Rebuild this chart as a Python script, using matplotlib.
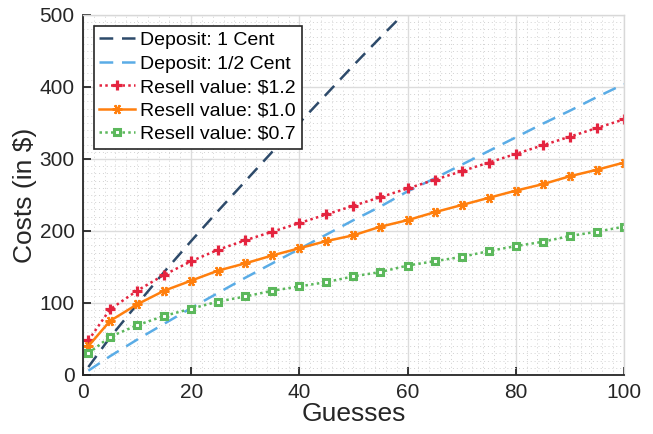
import matplotlib
matplotlib.use("Agg")
import matplotlib.pyplot as plt
from matplotlib.ticker import MultipleLocator

plt.rcParams['font.family'] = ['Liberation Sans', 'DejaVu Sans']

# guesses at which the curves were sampled
guesses = [1, 5, 10, 15, 20, 25, 30, 35, 40, 45, 50,
           55, 60, 65, 70, 75, 80, 85, 90, 95, 100]

# deposit costs
dep_1cent = [11, 52, 98, 143, 186, 228, 269, 310, 350, 390, 430,
             469, 507, 546, 584, 622, 660, 697, 734, 771, 808]
dep_half = [6, 26, 49, 71, 93, 114, 135, 155, 175, 195, 215,
            234, 255, 273, 292, 311, 330, 349, 367, 386, 404]

# resell value costs
resell_12 = [48, 91, 117, 139, 158, 174, 187, 199, 211, 223, 235,
             247, 259, 271, 283, 295, 307, 319, 331, 343, 355]
resell_10 = [40, 75, 98, 117, 131, 145, 155, 166, 176, 186, 194,
             206, 215, 226, 236, 246, 256, 265, 276, 285, 295]
resell_07 = [30, 53, 69, 82, 92, 102, 109, 117, 123, 129, 137,
             143, 152, 158, 164, 172, 179, 185, 193, 199, 206]

fig = plt.figure(figsize=(6.53, 4.34), dpi=100)
ax = fig.add_axes([0.127, 0.136, 0.8285, 0.8295])

ax.plot(guesses, dep_1cent, color='#2d4a6a', lw=1.8, ls=(0, (5.5, 3.5)),
        label='Deposit: 1 Cent')
ax.plot(guesses, dep_half, color='#5aace6', lw=1.8, ls=(0, (5.5, 3.5)),
        label='Deposit: 1/2 Cent')
ax.plot(guesses, resell_12, color='#e4243f', lw=1.8, ls=(0, (1, 1.3)),
        marker='+', ms=7.5, mew=2.3, label='Resell value: $1.2')
ax.plot(guesses, resell_10, color='#ff7f0e', lw=1.8, ls='-',
        marker=(6, 2, 90), ms=7, mew=1.6, label='Resell value: $1.0')
ax.plot(guesses, resell_07, color='#5cb85c', lw=1.8, ls=(0, (1, 1.3)),
        marker='s', ms=5, mew=2.2, mfc='white', label='Resell value: $0.7')

ax.set_xlim(0, 100)
ax.set_ylim(0, 500)
ax.set_xticks([0, 20, 40, 60, 80, 100])
ax.set_yticks([0, 100, 200, 300, 400, 500])
ax.xaxis.set_minor_locator(MultipleLocator(2))
ax.yaxis.set_minor_locator(MultipleLocator(10))

ax.grid(which='major', color='#dcdcdc', lw=1.0, ls='-')
ax.grid(which='minor', color='#d2d2d2', lw=0.7, ls=(0, (1, 3)))
ax.set_axisbelow(True)

ax.tick_params(which='major', direction='in', length=6, width=1.3,
               labelsize=15, colors='#262626', top=False, right=False, pad=6)
ax.tick_params(which='minor', length=0)
for s in ['left', 'bottom']:
    ax.spines[s].set_color('#262626')
    ax.spines[s].set_linewidth(1.3)
for s in ['top', 'right']:
    ax.spines[s].set_color('#d8d8d8')
    ax.spines[s].set_linewidth(1.0)

ax.set_xlabel('Guesses', fontsize=19, color='#262626', labelpad=0)
ax.set_ylabel('Costs (in $)', fontsize=19, color='#262626', labelpad=2)

leg = ax.legend(loc='upper left', fontsize=14, fancybox=False,
                edgecolor='#262626', framealpha=1, handlelength=1.85,
                handletextpad=0.25, borderpad=0.3, labelspacing=0.3,
                borderaxespad=0.55)
leg.get_frame().set_linewidth(1.2)

fig.savefig('out.png', dpi=100)
